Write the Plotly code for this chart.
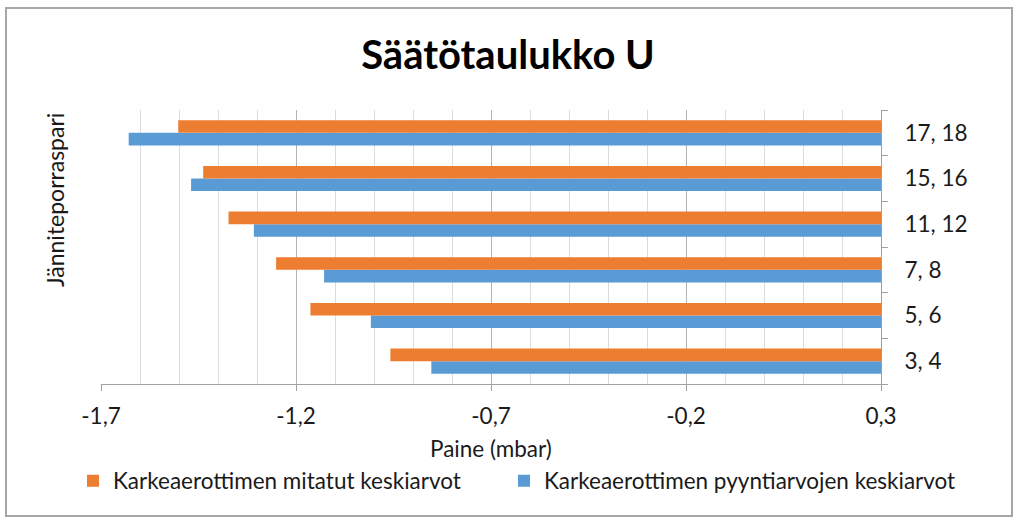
import plotly.graph_objects as go

categories = ["3, 4", "5, 6", "7, 8", "11, 12", "15, 16", "17, 18"]
mitatut = [-0.958, -1.163, -1.251, -1.373, -1.438, -1.502]
pyynti = [-0.853, -1.008, -1.128, -1.308, -1.469, -1.629]
x_ticks = [-1.7, -1.2, -0.7, -0.2, 0.3]
x_tick_text = ["-1,7", "-1,2", "-0,7", "-0,2", "0,3"]
base_val = 0.3

FONT = "Lato"
TXT = "#1a1a1a"
fig = go.Figure()
fig.add_trace(go.Bar(
    y=categories, x=[v - base_val for v in pyynti], base=base_val,
    orientation="h", name="Karkeaerottimen pyyntiarvojen keskiarvot",
    marker=dict(color="#5B9BD5", line=dict(width=0)), legend="legend2",
))
fig.add_trace(go.Bar(
    y=categories, x=[v - base_val for v in mitatut], base=base_val,
    orientation="h", name="Karkeaerottimen mitatut keskiarvot",
    marker=dict(color="#ED7D31", line=dict(width=0)), legend="legend",
))

L, R, T, B = 101, 143, 110, 141
pw, ph = 1024 - L - R, 525 - T - B

def px(x):
    return (x - L) / pw

def py(y):
    return (525 - B - y) / ph

leg_common = dict(orientation="h", xref="container", yref="container",
                  xanchor="left", y=1 - 481 / 525, yanchor="middle",
                  font=dict(family=FONT, size=22.5, color=TXT),
                  itemwidth=30, bgcolor="rgba(0,0,0,0)")

fig.update_layout(
    width=1024, height=525,
    margin=dict(l=L, r=R, t=T, b=B),
    paper_bgcolor="white", plot_bgcolor="white",
    separators=", ",
    barmode="group", bargap=0.45, bargroupgap=0,
    font=dict(family=FONT, color=TXT, size=22),
    title=dict(text="<b>Säätötaulukko U</b>", x=508 / 1024, xanchor="center",
               y=1 - 55 / 525, yanchor="middle",
               font=dict(family=FONT, size=40, color="#000000")),
    showlegend=True,
    legend=dict(x=73 / 1024, **leg_common),
    legend2=dict(x=504 / 1024, **leg_common),
    xaxis=dict(
        range=[-1.7, 0.3], tickvals=x_ticks, ticktext=x_tick_text,
        showgrid=True, gridcolor="#b3b3b3", gridwidth=1,
        ticks="outside", ticklen=6, tickcolor="#a0a0a0",
        showline=True, linecolor="#a0a0a0", linewidth=1,
        zeroline=False, ticklabelstandoff=6,
        minor=dict(dtick=0.1, tick0=-1.7, showgrid=True, gridcolor="#dcdcdc", gridwidth=1,
                   ticks="", ticklen=0),
        tickfont=dict(family=FONT, size=22.5, color=TXT),
        fixedrange=True,
    ),
    yaxis=dict(
        type="category", categoryorder="array", categoryarray=categories,
        side="right", showgrid=False, zeroline=False,
        showline=True, linecolor="#a0a0a0", linewidth=1,
        ticks="outside", ticklen=6, tickcolor="#a0a0a0", tickson="boundaries",
        ticklabelstandoff=18,
        tickfont=dict(family=FONT, size=22.5, color=TXT),
    ),
    annotations=[
        dict(text="Jänniteporraspari", textangle=-90, xref="paper", yref="paper",
             x=px(55), y=py(200), xanchor="center", yanchor="middle", showarrow=False,
             font=dict(family=FONT, size=23, color=TXT)),
        dict(text="Paine (mbar)", xref="paper", yref="paper",
             x=px(491), y=py(449), xanchor="center", yanchor="middle", showarrow=False,
             font=dict(family=FONT, size=22.5, color=TXT)),
    ],
    shapes=[
        dict(type="rect", xref="paper", yref="paper",
             x0=px(6), x1=px(1012), y0=py(516), y1=py(8),
             line=dict(color="#a6a6a6", width=2), fillcolor="rgba(0,0,0,0)", layer="below"),
    ],
)

fig.write_html("out.html")
